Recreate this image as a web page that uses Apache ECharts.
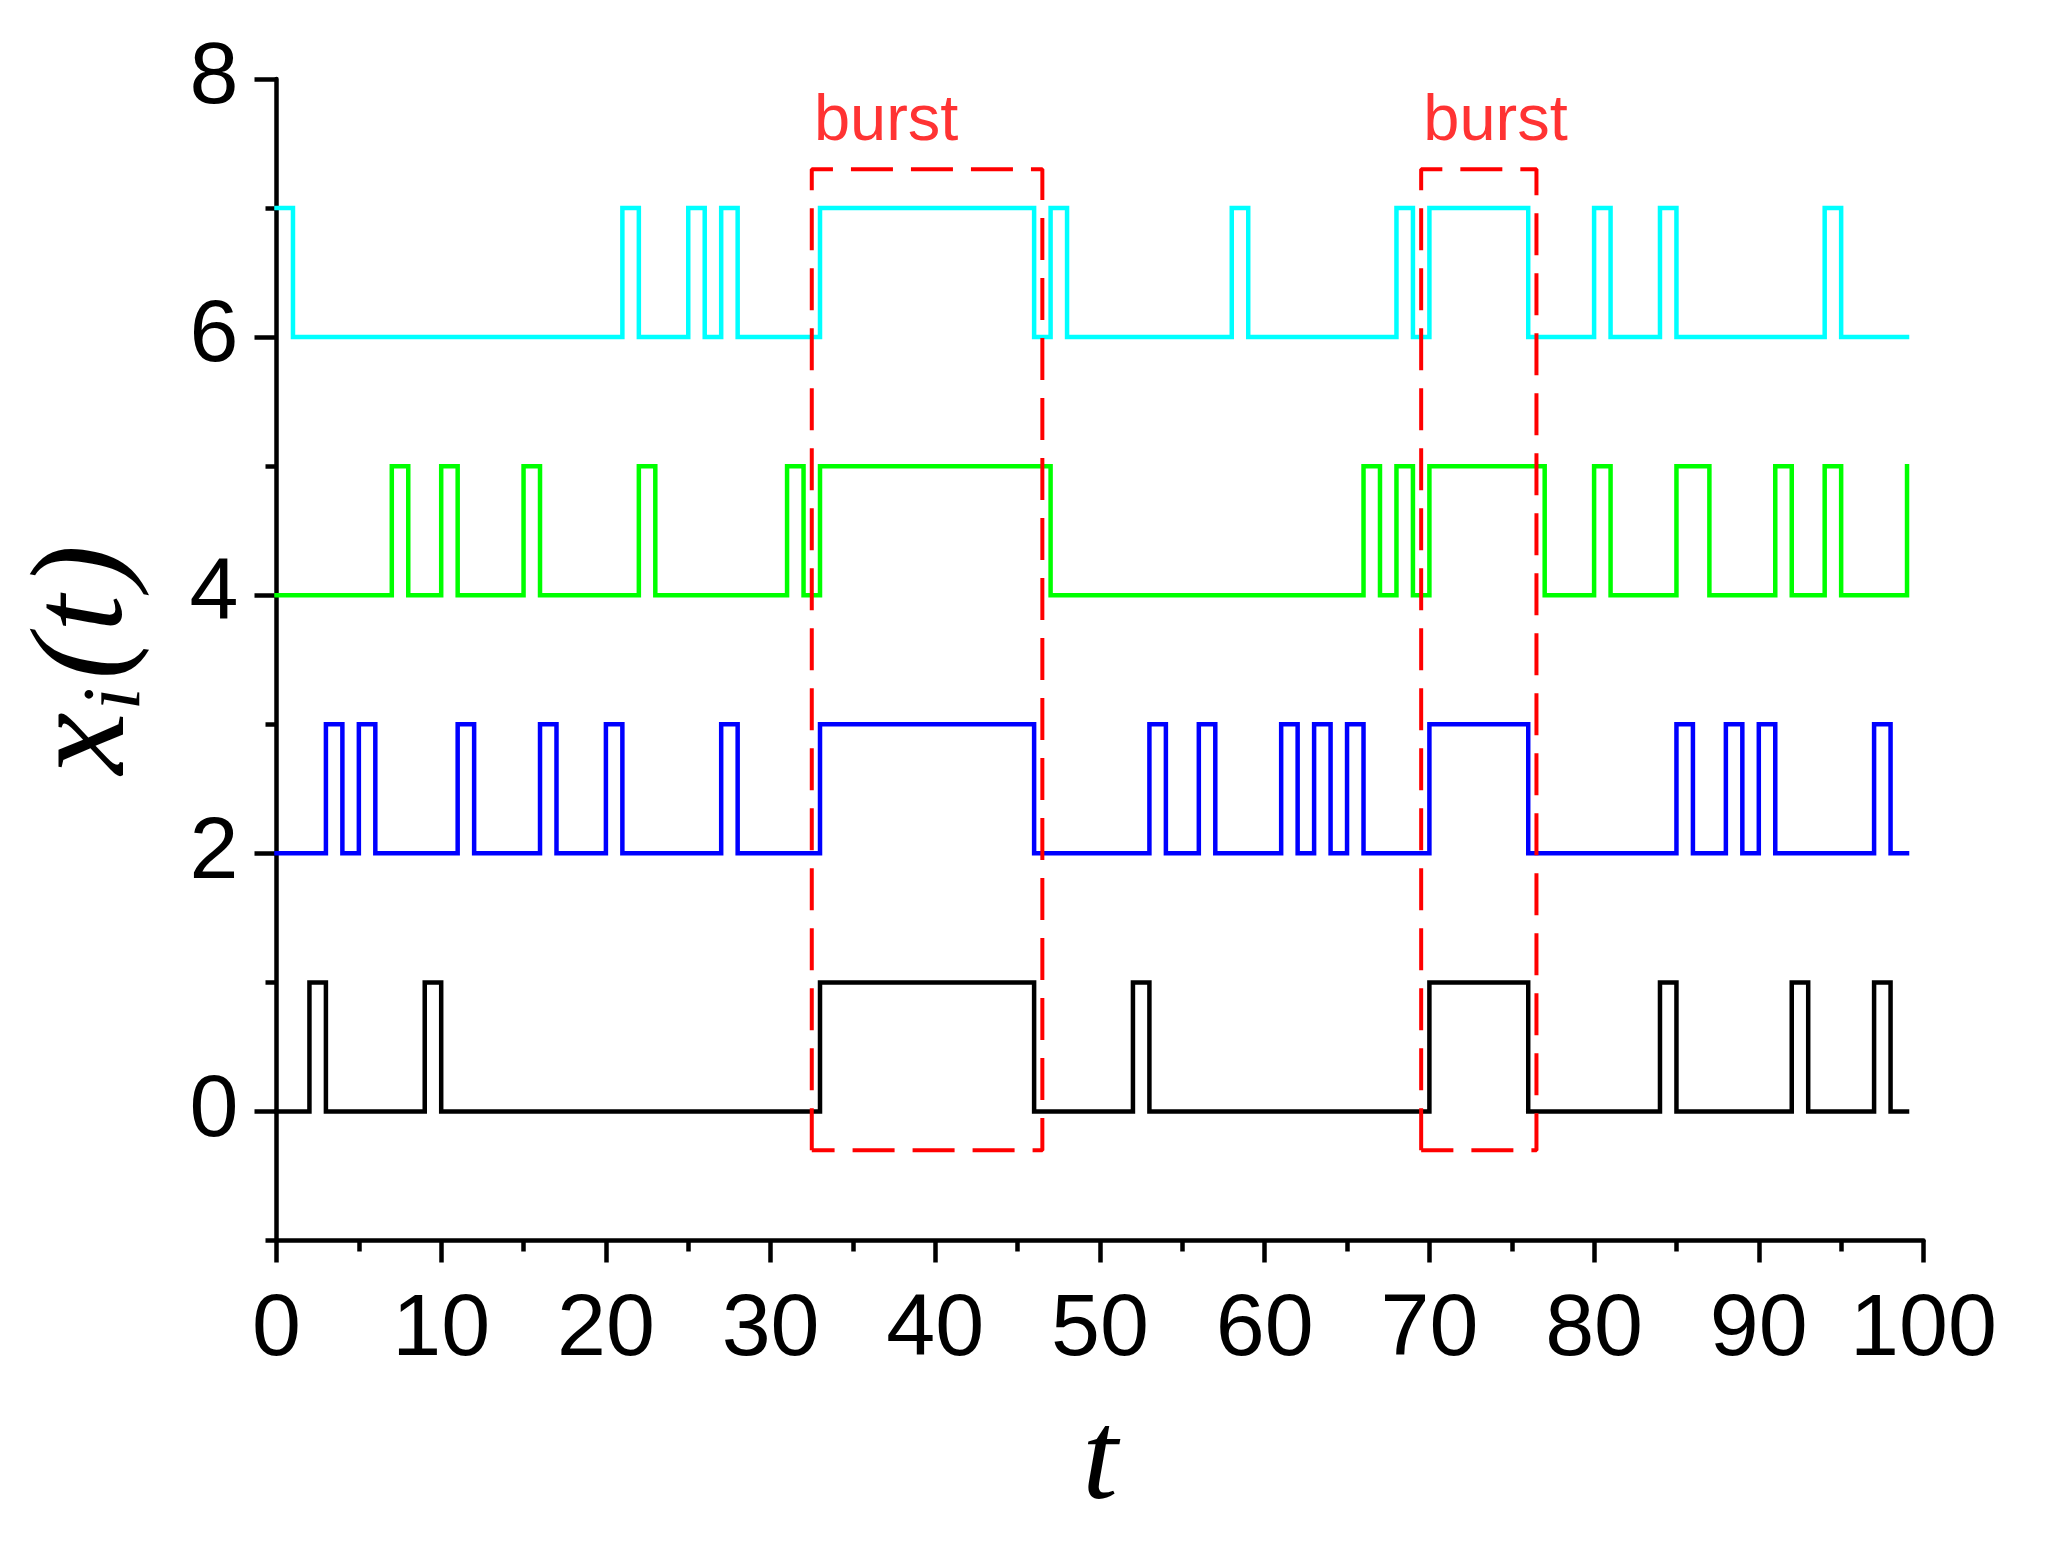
<!DOCTYPE html>
<html>
<head>
<meta charset="utf-8">
<script src="https://cdn.jsdelivr.net/npm/echarts@6/dist/echarts.min.js"></script>
<style>
html,body{margin:0;padding:0;background:#fff;}
#chart{width:2045px;height:1550px;}
</style>
</head>
<body>
<div id="chart"></div>
<script>
// Step signals: [time, value] at each transition
const seriesBlack = [[0,0],[2,1],[3,0],[9,1],[10,0],[33,1],[46,0],[52,1],[53,0],[70,1],[76,0],[84,1],[85,0],[92,1],[93,0],[97,1],[98,0],[99,0]];
const seriesBlue = [[0,2],[3,3],[4,2],[5,3],[6,2],[11,3],[12,2],[16,3],[17,2],[20,3],[21,2],[27,3],[28,2],[33,3],[46,2],[53,3],[54,2],[56,3],[57,2],[61,3],[62,2],[63,3],[64,2],[65,3],[66,2],[70,3],[76,2],[85,3],[86,2],[88,3],[89,2],[90,3],[91,2],[97,3],[98,2],[99,2]];
const seriesGreen = [[0,4],[7,5],[8,4],[10,5],[11,4],[15,5],[16,4],[22,5],[23,4],[31,5],[32,4],[33,5],[47,4],[66,5],[67,4],[68,5],[69,4],[70,5],[77,4],[80,5],[81,4],[85,5],[87,4],[91,5],[92,4],[94,5],[95,4],[99,5]];
const seriesCyan = [[0,7],[1,6],[21,7],[22,6],[25,7],[26,6],[27,7],[28,6],[33,7],[46,6],[47,7],[48,6],[58,7],[59,6],[68,7],[69,6],[70,7],[76,6],[80,7],[81,6],[84,7],[85,6],[94,7],[95,6],[99,6]];

// Burst windows
const burstStart = [32.5, 69.5];
const burstEnd = [46.5, 76.5];
const burstLow = -0.3;
const burstHigh = 7.3;
const burstLabelX = [32.6, 69.6];
const burstLabelY = 7.67;
const burstText = 'burst';

// Axis ticks
const xTickValues = [0,10,20,30,40,50,60,70,80,90,100];
const yMajorValues = [0,2,4,6,8];
const yMinorValues = [-1,1,3,5,7];

const chart = echarts.init(document.getElementById('chart'), null, {renderer:'canvas'});

function rectPath(s, e) {
  return [[s, burstLow],[s, burstHigh],[e, burstHigh],[e, burstLow],[s, burstLow]];
}

const gridRect = {left: 276.5, right: 121.5, top: 79, bottom: 309.5, containLabel: false};
const tickFont = {fontFamily: 'Arial, "Liberation Sans", sans-serif', fontSize: 88, color: '#000'};
const LW = 4.5;

const stepLine = (data, color) => ({
  type: 'line', step: 'end', data: data, showSymbol: false, symbol: 'none',
  xAxisIndex: 0, yAxisIndex: 0,
  lineStyle: {color: color, width: LW, join: 'miter', cap: 'square'},
  silent: true, z: 3
});

const series = [
  stepLine(seriesBlack, '#000000'),
  stepLine(seriesBlue, '#0000FF'),
  stepLine(seriesGreen, '#00FF00'),
  stepLine(seriesCyan, '#00FFFF')
];
for (let i = 0; i < burstStart.length; i++) {
  series.push({
    type: 'line', data: rectPath(burstStart[i], burstEnd[i]), showSymbol: false, symbol: 'none',
    xAxisIndex: 0, yAxisIndex: 0, silent: true, z: 5,
    lineStyle: {color: '#FF0000', width: 4, type: [42, 18]}
  });
}
series.push({
  type: 'scatter', xAxisIndex: 0, yAxisIndex: 0, silent: true, z: 6,
  data: burstLabelX.map(x => [x, burstLabelY]),
  symbolSize: 1, itemStyle: {color: 'rgba(0,0,0,0)'},
  label: {show: true, position: 'right', distance: 0, formatter: burstText,
    color: '#FF0000', fontSize: 65, fontFamily: 'Arial, "Liberation Sans", sans-serif'}
});

const serifIt = {fontFamily: '"Liberation Serif", "Times New Roman", serif', fontStyle: 'italic', color: '#000'};

chart.setOption({
  animation: false,
  backgroundColor: '#ffffff',
  grid: [gridRect, Object.assign({}, gridRect)],
  xAxis: [{
    type: 'value', gridIndex: 0, min: 0, max: 100, interval: 10,
    name: 't', nameLocation: 'middle', nameGap: 160,
    nameTextStyle: Object.assign({fontSize: 128}, serifIt),
    axisLine: {show: true, onZero: false, lineStyle: {color: '#000', width: LW}},
    axisTick: {show: true, inside: false, length: 22, lineStyle: {color: '#000', width: LW}},
    minorTick: {show: true, splitNumber: 2, length: 11, lineStyle: {color: '#000', width: LW}},
    axisLabel: Object.assign({margin: 46, customValues: xTickValues}, tickFont),
    splitLine: {show: false}, minorSplitLine: {show: false}
  }, {
    type: 'value', gridIndex: 1, min: 0, max: 100, show: false
  }],
  yAxis: [{
    type: 'value', gridIndex: 0, min: -1, max: 8, interval: 1,
    name: '{x|x}{s|i}{p|(}{t|t}{q|)}', nameLocation: 'middle', nameGap: 118, nameRotate: 90,
    nameTextStyle: Object.assign({
      fontSize: 132,
      rich: {
        x: Object.assign({fontSize: 140, lineHeight: 145, padding: [0, 2, 0, 0]}, serifIt),
        s: Object.assign({fontSize: 82, lineHeight: 70, verticalAlign: 'bottom', padding: [0, 8, 0, 0]}, serifIt),
        p: Object.assign({fontSize: 132, lineHeight: 145, padding: [0, 4, 0, 0]}, serifIt),
        t: Object.assign({fontSize: 132, lineHeight: 145, padding: [0, 6, 0, 0]}, serifIt),
        q: Object.assign({fontSize: 132, lineHeight: 145}, serifIt)
      }
    }, serifIt),
    axisLine: {show: true, onZero: false, lineStyle: {color: '#000', width: LW}},
    axisTick: {show: true, inside: false, length: 22, customValues: yMajorValues, lineStyle: {color: '#000', width: LW}},
    axisLabel: Object.assign({margin: 38, customValues: yMajorValues}, tickFont),
    splitLine: {show: false}
  }, {
    type: 'value', gridIndex: 1, min: -1, max: 8, interval: 1,
    axisLine: {show: false},
    axisTick: {show: true, inside: false, length: 11, customValues: yMinorValues, lineStyle: {color: '#000', width: LW}},
    axisLabel: {show: false},
    splitLine: {show: false}
  }],
  series: series
});
</script>
</body>
</html>
